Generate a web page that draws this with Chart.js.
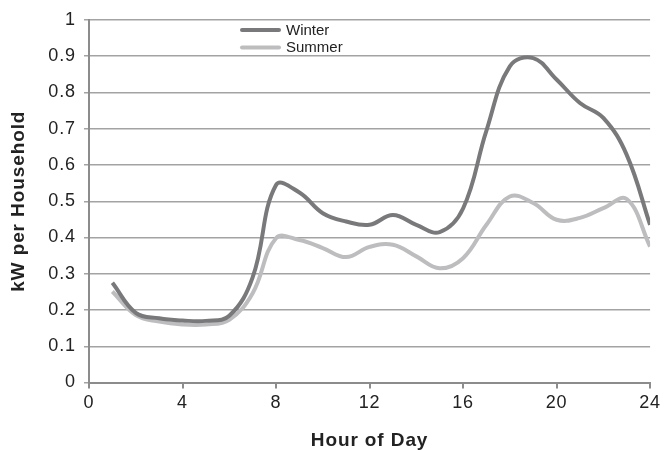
<!DOCTYPE html>
<html>
<head>
<meta charset="utf-8">
<script src="https://cdn.jsdelivr.net/npm/chart.js@4.4.0/dist/chart.umd.min.js"></script>
<style>
  html, body { margin: 0; padding: 0; background: #fff; }
  #wrap { width: 665px; height: 450px; }
</style>
</head>
<body>
<div id="wrap"><canvas id="loadChart" width="665" height="450"></canvas></div>
<script>
const hours = [1, 2, 3, 4, 5, 6, 7, 8, 9, 10, 11, 12, 13, 14, 15, 16, 17, 18, 19, 20, 21, 22, 23, 24];
const winter = [0.275, 0.192, 0.177, 0.171, 0.170, 0.184, 0.29, 0.545, 0.524, 0.467, 0.444, 0.435, 0.462, 0.435, 0.415, 0.48, 0.695, 0.872, 0.895, 0.836, 0.771, 0.73, 0.628, 0.435];
const summer = [0.251, 0.186, 0.168, 0.16, 0.16, 0.173, 0.246, 0.398, 0.393, 0.371, 0.346, 0.374, 0.38, 0.348, 0.315, 0.343, 0.435, 0.513, 0.495, 0.449, 0.454, 0.481, 0.506, 0.375];
const seriesNames = ['Winter', 'Summer'];
const xTitle = 'Hour of Day', yTitle = 'kW per Household';

const FONT = '"Liberation Sans", Arial, sans-serif';
const toPoints = vals => vals.map((v, i) => ({ x: hours[i], y: v }));

// the original's axis text runs a little wider than plain Arial
const spacing = {
  id: 'spacing',
  beforeUpdate(chart) { chart.ctx.letterSpacing = '0.9px'; },
  beforeDraw(chart) { chart.ctx.letterSpacing = '0.9px'; }
};

// legend drawn inside the plot, top left like the original
const insideLegend = {
  id: 'insideLegend',
  afterDraw(chart) {
    const ctx = chart.ctx, rows = [30, 47.5];
    ctx.save();
    ctx.letterSpacing = '0px';
    chart.data.datasets.forEach((ds, i) => {
      ctx.strokeStyle = ds.borderColor; ctx.lineWidth = 4; ctx.lineCap = 'round';
      ctx.beginPath(); ctx.moveTo(242, rows[i]); ctx.lineTo(279, rows[i]); ctx.stroke();
      ctx.fillStyle = '#222'; ctx.font = '15px ' + FONT; ctx.textBaseline = 'middle';
      ctx.fillText(ds.label, 286, rows[i] + 0.5);
    });
    ctx.restore();
  }
};

new Chart(document.getElementById('loadChart').getContext('2d'), {
  type: 'line',
  data: {
    datasets: [
      { label: seriesNames[0], data: toPoints(winter), borderColor: '#79797b', borderWidth: 4, pointRadius: 0, tension: 0.4, fill: false },
      { label: seriesNames[1], data: toPoints(summer), borderColor: '#bdbdbf', borderWidth: 4, pointRadius: 0, tension: 0.4, fill: false }
    ]
  },
  options: {
    responsive: false, animation: false, devicePixelRatio: 1,
    layout: { padding: { top: 20, right: 12, left: 5, bottom: 0 } },
    plugins: { legend: { display: false }, tooltip: { enabled: false } },
    scales: {
      x: {
        type: 'linear', min: 0, max: 24,
        ticks: { stepSize: 4, color: '#222', font: { family: FONT, size: 18 }, padding: 4, maxRotation: 0 },
        grid: { drawOnChartArea: false, drawTicks: true, tickLength: 6, color: '#8c8c8c', lineWidth: 2 },
        border: { display: true, color: '#8c8c8c', width: 2 },
        title: { display: true, text: xTitle, color: '#222', font: { family: FONT, size: 19, weight: 'bold' }, padding: { top: 8, bottom: -2 } },
        afterFit(s) { s.height = 67.5; }
      },
      y: {
        min: 0, max: 1,
        ticks: { stepSize: 0.1, color: '#222', font: { family: FONT, size: 18 }, padding: 8, callback: v => String(+v.toFixed(1)) },
        grid: { color: '#a3a3a3', lineWidth: 1.5, drawTicks: true, tickLength: 5 },
        border: { display: true, color: '#8c8c8c', width: 2 },
        title: { display: true, text: yTitle, color: '#222', font: { family: FONT, size: 19, weight: 'bold' }, padding: { top: 2, bottom: 0 } },
        afterFit(s) { s.width = 84; }
      }
    }
  },
  plugins: [spacing, insideLegend]
});
</script>
</body>
</html>
